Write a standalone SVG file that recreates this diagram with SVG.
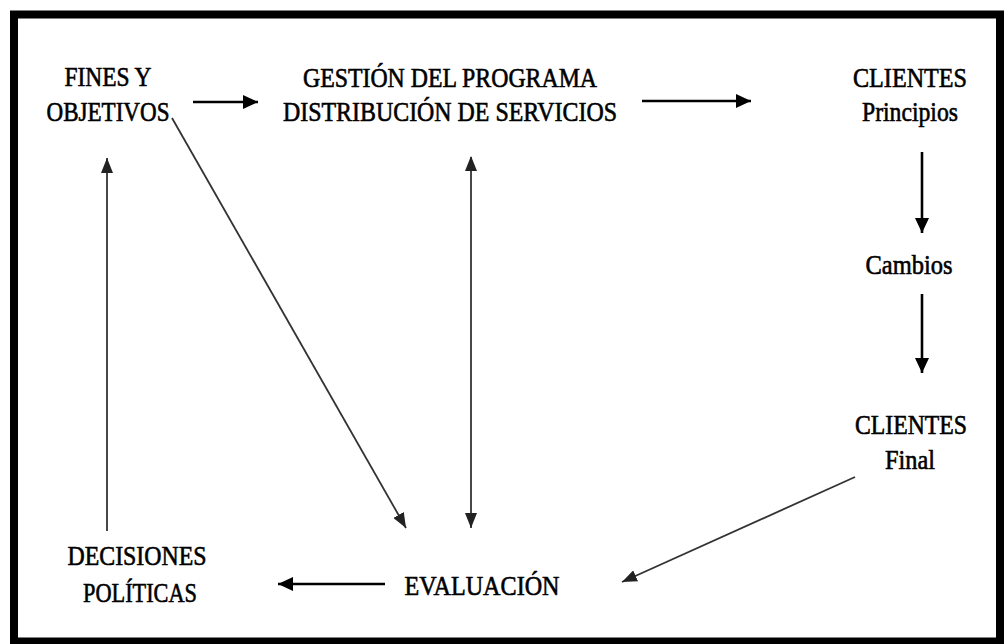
<svg xmlns="http://www.w3.org/2000/svg" width="1007" height="644" viewBox="0 0 1007 644">
<style>
  .t { font-family: "Liberation Serif", "Times New Roman", serif; font-size: 27px; fill: #000; text-anchor: middle; stroke: #000; stroke-width: 0.6; }
  .a { stroke: #000; stroke-width: 2.6; fill: none; }
  .d { stroke: #333; stroke-width: 1.8; fill: none; }
</style>
<defs>
  <marker id="ah" markerUnits="userSpaceOnUse" markerWidth="16" markerHeight="14" refX="15" refY="7" orient="auto">
    <path d="M0,0 L15,7 L0,14 z" fill="#000"/>
  </marker>
  <marker id="ahs" markerUnits="userSpaceOnUse" markerWidth="16" markerHeight="12" refX="15" refY="6" orient="auto">
    <path d="M0,0 L15,6 L0,12 z" fill="#222"/>
  </marker>
  <marker id="ahsr" markerUnits="userSpaceOnUse" markerWidth="16" markerHeight="12" refX="1" refY="6" orient="auto">
    <path d="M15,0 L0,6 L15,12 z" fill="#222"/>
  </marker>
</defs>
<rect x="0" y="0" width="1007" height="644" fill="#fff"/>
<rect x="14" y="14.5" width="986" height="627" fill="none" stroke="#000" stroke-width="8"/>

<g id="fines"><text class="t" x="108" y="86" textLength="87" lengthAdjust="spacingAndGlyphs">FINES Y</text><text class="t" x="108" y="121" textLength="123" lengthAdjust="spacingAndGlyphs">OBJETIVOS</text></g>
<g id="gestion"><text class="t" x="450" y="87" textLength="294" lengthAdjust="spacingAndGlyphs">GESTIÓN DEL PROGRAMA</text><text class="t" x="450" y="121" textLength="334" lengthAdjust="spacingAndGlyphs">DISTRIBUCIÓN DE SERVICIOS</text></g>
<g id="clientes-principios"><text class="t" x="910" y="87" textLength="114" lengthAdjust="spacingAndGlyphs">CLIENTES</text><text class="t" x="910" y="121" textLength="96" lengthAdjust="spacingAndGlyphs">Principios</text></g>
<g id="cambios"><text class="t" x="909" y="274" textLength="87" lengthAdjust="spacingAndGlyphs">Cambios</text></g>
<g id="clientes-final"><text class="t" x="911" y="434" textLength="112" lengthAdjust="spacingAndGlyphs">CLIENTES</text><text class="t" x="910" y="469" textLength="50" lengthAdjust="spacingAndGlyphs">Final</text></g>
<g id="evaluacion"><text class="t" x="482" y="595" textLength="155" lengthAdjust="spacingAndGlyphs">EVALUACIÓN</text></g>
<g id="decisiones"><text class="t" x="137" y="565" textLength="139" lengthAdjust="spacingAndGlyphs">DECISIONES</text><text class="t" x="140" y="602" textLength="114" lengthAdjust="spacingAndGlyphs">POLÍTICAS</text></g>

<g id="connectors">
  <line class="a" x1="193" y1="102" x2="258" y2="102" marker-end="url(#ah)"/>
  <line class="a" x1="642" y1="101" x2="751" y2="101" marker-end="url(#ah)"/>
  <line class="a" x1="922" y1="152" x2="922" y2="233" marker-end="url(#ah)"/>
  <line class="a" x1="922" y1="294" x2="922" y2="373" marker-end="url(#ah)"/>
  <line class="d" x1="855" y1="477" x2="622" y2="582" marker-end="url(#ahs)"/>
  <line class="d" x1="172" y1="118" x2="406" y2="528" marker-end="url(#ahs)"/>
  <line class="d" x1="471" y1="157" x2="471" y2="528" marker-start="url(#ahsr)" marker-end="url(#ahs)"/>
  <line class="a" x1="385" y1="584" x2="278" y2="584" marker-end="url(#ah)"/>
  <line class="d" x1="107" y1="531" x2="107" y2="158" marker-end="url(#ahs)"/>
</g>
</svg>
